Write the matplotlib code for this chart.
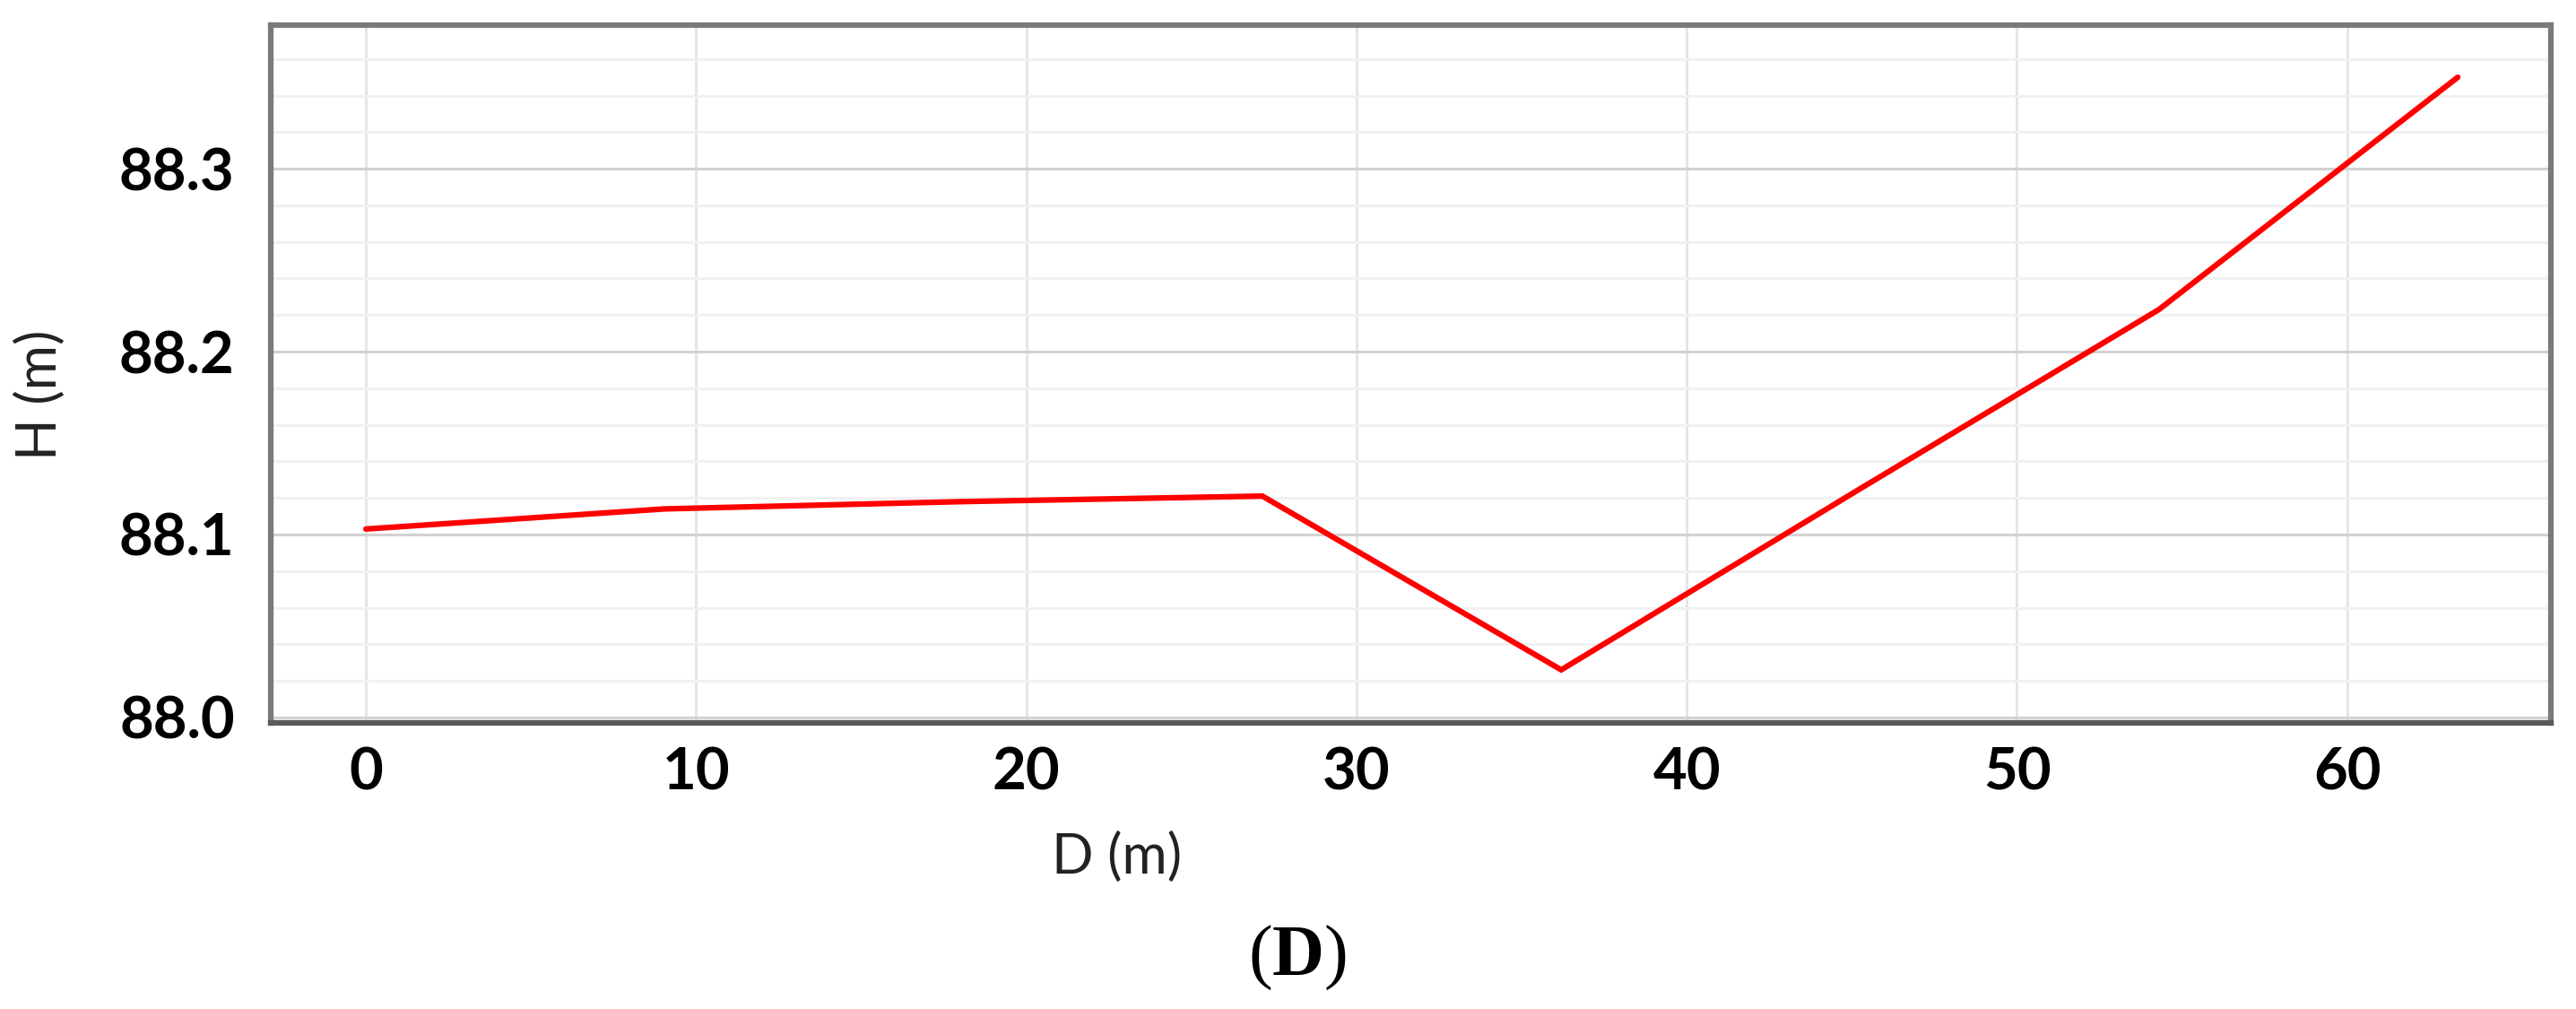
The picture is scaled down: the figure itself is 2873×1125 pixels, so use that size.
import matplotlib
matplotlib.use("Agg")
import matplotlib.pyplot as plt
import numpy as np

# profile data
distance = [0, 9.05, 18.1, 27.15, 36.2, 45.25, 54.3, 63.35]
height = [88.103, 88.114, 88.118, 88.121, 88.026, 88.125, 88.223, 88.350]

x_ticks = [0, 10, 20, 30, 40, 50, 60]
y_ticks = [88.0, 88.1, 88.2, 88.3]

plt.rcParams["mathtext.fontset"] = "custom"
plt.rcParams["mathtext.rm"] = "Liberation Serif"
plt.rcParams["mathtext.bf"] = "Liberation Serif:bold"

W, H = 2873, 1125
fig = plt.figure(figsize=(W / 100, H / 100), dpi=100)
ax = fig.add_axes([302 / W, 1 - 806 / H, (2845 - 302) / W, (806 - 28) / H])

ax.plot(distance, height, color="#ff0000", linewidth=4.5, solid_capstyle="round",
        solid_joinstyle="miter", zorder=3)

ax.set_xlim(-2.88, 66.17)
ax.set_ylim(87.997, 88.3785)

ax.set_xticks(x_ticks)
ax.set_yticks(y_ticks)
ax.set_yticks(np.arange(88.0, 88.38, 0.02), minor=True)
ax.set_yticklabels([f"{v:.1f}" for v in y_ticks])

ax.grid(axis="y", which="minor", color="#f1f1f1", linewidth=2.2, zorder=0)
ax.grid(axis="y", which="major", color="#d2d2d2", linewidth=2.2, zorder=1)
ax.grid(axis="x", which="major", color="#e4e4e4", linewidth=2.0, zorder=1)

ax.tick_params(axis="both", which="both", length=0)
ax.tick_params(axis="x", pad=19)
ax.tick_params(axis="y", pad=29)
for lab in ax.get_xticklabels() + ax.get_yticklabels():
    lab.set_fontfamily("Lato")
    lab.set_fontweight("bold")
    lab.set_fontsize(47)

for side in ["top", "left", "right"]:
    ax.spines[side].set_color("#7a7a7a")
    ax.spines[side].set_linewidth(4.5)
ax.spines["bottom"].set_color("#5a5a5a")
ax.spines["bottom"].set_linewidth(4.5)

fig.text(45 / W, 1 - 440 / H, "H (m)", rotation=90, ha="center", va="center",
         fontsize=44, fontfamily="Lato", color="#222222")
fig.text(1246 / W, 1 - 956 / H, "D (m)", ha="center", va="center",
         fontsize=44, fontfamily="Lato", color="#222222")
fig.text(1447 / W, 1 - 1068 / H, r"($\mathbf{D}$)", ha="center", va="center",
         fontsize=58, fontfamily="Liberation Serif")

fig.savefig("out.png", dpi=100, facecolor="white")
